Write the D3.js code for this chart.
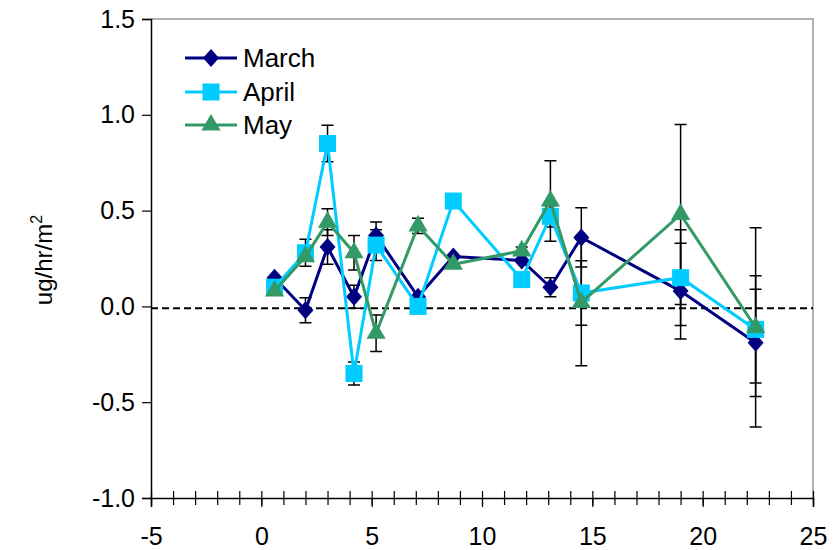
<!DOCTYPE html>
<html>
<head>
<meta charset="utf-8">
<script src="https://cdn.jsdelivr.net/npm/d3@7"></script>
<style>
  body { margin: 0; background: #fff; }
  text { font-family: "Liberation Sans", Arial, sans-serif; fill: #000; }
</style>
</head>
<body>
<div id="chart"></div>
<script>

// --------------------------------------------------------
// data
var months          =   [ "March", "April", "May" ];
var x_values        =   [ 0.6, 2.0, 3.0, 4.2, 5.2, 7.1, 8.7, 11.8, 13.1, 14.5, 19.0, 22.4 ];

var march_values    =   [ 0.15, -0.02, 0.31, 0.05, 0.37, 0.05, 0.26, 0.24, 0.10, 0.36, 0.08, -0.19 ];
var april_values    =   [ 0.10, 0.28, 0.85, -0.35, 0.32, 0.00, 0.55, 0.14, 0.47, 0.07, 0.15, -0.12 ];
var may_values      =   [ 0.08, 0.26, 0.44, 0.28, -0.14, 0.42, 0.22, 0.29, 0.55, 0.02, 0.48, -0.11 ];

// half width of the error bars (0 = none drawn)
var march_errors    =   [ 0, 0.065, 0.09, 0.06, 0.07, 0, 0, 0, 0.05, 0.155, 0.25, 0.28 ];
var april_errors    =   [ 0, 0.07, 0.095, 0.06, 0.08, 0, 0, 0, 0.055, 0.168, 0.25, 0.28 ];
var may_errors      =   [ 0, 0, 0.07, 0.09, 0.095, 0.04, 0, 0.02, 0.21, 0.33, 0.47, 0.52 ];

var zero_line       =   -0.01;

var x_tick_values   =   [ -5, 0, 5, 10, 15, 20, 25 ];
var y_tick_values   =   [ -1.0, -0.5, 0.0, 0.5, 1.0, 1.5 ];
var y_tick_labels   =   [ "-1.0", "-0.5", "0.0", "0.5", "1.0", "1.5" ];

// --------------------------------------------------------
// Chart size parameters
var chart_width     =   837;
var chart_height    =   550;
var left            =   151;
var right           =   813;
var top_y           =   19;
var bottom_y        =   498;

var colors          =   { March: "#000080", April: "#00CCFF", May: "#339966" };

// marker shapes, drawn around (0,0)
var diamond         =   "M0,-9L8,0L0,9L-8,0Z";
var markers         =   {
	March: diamond,
	April: d3.symbol().type(d3.symbolSquare).size(290)(),
	May: d3.symbol().type(d3.symbolTriangle).size(160)()
};

var series = months.map((m, i) => {
	var vals = [ march_values, april_values, may_values ][i];
	var errs = [ march_errors, april_errors, may_errors ][i];
	return {
		name: m,
		points: x_values.map((x, j) => ({ x: x, y: vals[j], e: errs[j] }))
	};
});

// --------------------------------------------------------
var svg = d3.select("#chart")
	.append("svg")
	.attr("width", chart_width)
	.attr("height", chart_height);

const x_scale = d3.scaleLinear()
	.domain([ -5, 25 ])
	.range([ left, right ]);

const y_scale = d3.scaleLinear()
	.domain([ -1.0, 1.5 ])
	.range([ bottom_y, top_y ]);

// plot area border (grey, top and right)
svg.append("path")
	.attr("d", "M" + left + "," + top_y + "H" + right + "V" + bottom_y)
	.attr("fill", "none")
	.attr("stroke", "#999")
	.attr("stroke-width", 1.5);

// --------------------------------------------------------
// x axis: cross ticks every 1, labels every 5
var minor_ticks = d3.range(-5, 26, 1);

svg.append("g")
	.attr("transform", "translate(0," + bottom_y + ")")
	.call(d3.axisBottom(x_scale).tickValues(minor_ticks).tickSize(7).tickFormat(""))
	.call(g => g.select(".domain").remove())
	.call(g => g.selectAll(".tick line").attr("stroke", "#000").attr("stroke-width", 1.2));

svg.append("g")
	.attr("transform", "translate(0," + bottom_y + ")")
	.call(d3.axisTop(x_scale).tickValues(minor_ticks).tickSize(7).tickFormat(""))
	.call(g => g.select(".domain").remove())
	.call(g => g.selectAll(".tick line").attr("stroke", "#000").attr("stroke-width", 1.2));

svg.append("g")
	.attr("transform", "translate(0," + bottom_y + ")")
	.call(d3.axisBottom(x_scale).tickValues(x_tick_values).tickSize(9).tickPadding(20).tickFormat(d => d))
	.call(g => g.select(".domain").attr("stroke", "#000").attr("stroke-width", 1.5))
	.call(g => g.selectAll(".tick line").attr("stroke", "#000").attr("stroke-width", 1.2))
	.call(g => g.selectAll(".tick text").attr("font-size", 25).attr("fill", "#000"));

// y axis
svg.append("g")
	.attr("transform", "translate(" + left + ",0)")
	.call(d3.axisLeft(y_scale).tickValues(y_tick_values).tickSize(9).tickPadding(7)
		.tickFormat((d, i) => y_tick_labels[i]))
	.call(g => g.select(".domain").attr("stroke", "#000").attr("stroke-width", 1.5))
	.call(g => g.selectAll(".tick line").attr("stroke", "#000").attr("stroke-width", 1.2))
	.call(g => g.selectAll(".tick text").attr("font-size", 25).attr("fill", "#000"));

// y label
svg.append("text")
	.attr("transform", "translate(52,260) rotate(-90)")
	.attr("text-anchor", "middle")
	.attr("font-size", 24)
	.text("ug/hr/m")
	.append("tspan")
	.attr("font-size", 16)
	.attr("dy", -10)
	.text("2");

// dashed zero line
svg.append("line")
	.attr("x1", left)
	.attr("x2", right)
	.attr("y1", y_scale(zero_line))
	.attr("y2", y_scale(zero_line))
	.attr("stroke", "#000")
	.attr("stroke-width", 2)
	.attr("stroke-dasharray", "7,4");

// --------------------------------------------------------
// error bars
var err_g = svg.append("g");
series.forEach(s => {
	var pts = s.points.filter(p => p.e > 0);
	err_g.selectAll(null)
		.data(pts)
		.enter()
		.append("path")
		.attr("d", p => {
			var cx = x_scale(p.x), y1 = y_scale(p.y + p.e), y2 = y_scale(p.y - p.e);
			return "M" + cx + "," + y1 + "V" + y2 +
				"M" + (cx - 6) + "," + y1 + "H" + (cx + 6) +
				"M" + (cx - 6) + "," + y2 + "H" + (cx + 6);
		})
		.attr("fill", "none")
		.attr("stroke", "#000")
		.attr("stroke-width", 1.5);
});

// lines + markers
var line = d3.line()
	.x(p => x_scale(p.x))
	.y(p => y_scale(p.y));

series.forEach(s => {
	svg.append("path")
		.datum(s.points)
		.attr("d", line)
		.attr("fill", "none")
		.attr("stroke", colors[s.name])
		.attr("stroke-width", 3);

	svg.append("g")
		.selectAll("path")
		.data(s.points)
		.enter()
		.append("path")
		.attr("transform", p => "translate(" + x_scale(p.x) + "," + y_scale(p.y) + ")")
		.attr("d", markers[s.name])
		.attr("fill", colors[s.name]);
});

// --------------------------------------------------------
// legend
var legend = svg.append("g");
var legend_y = [ 58, 92, 125 ];

months.forEach((m, i) => {
	var row = legend.append("g").attr("transform", "translate(0," + legend_y[i] + ")");
	row.append("line")
		.attr("x1", 185).attr("x2", 237)
		.attr("stroke", colors[m])
		.attr("stroke-width", 3);
	row.append("path")
		.attr("transform", "translate(211,0)")
		.attr("d", markers[m])
		.attr("fill", colors[m]);
	row.append("text")
		.attr("x", 243)
		.attr("y", 9)
		.attr("font-size", 26)
		.text(m);
});

</script>
</body>
</html>
